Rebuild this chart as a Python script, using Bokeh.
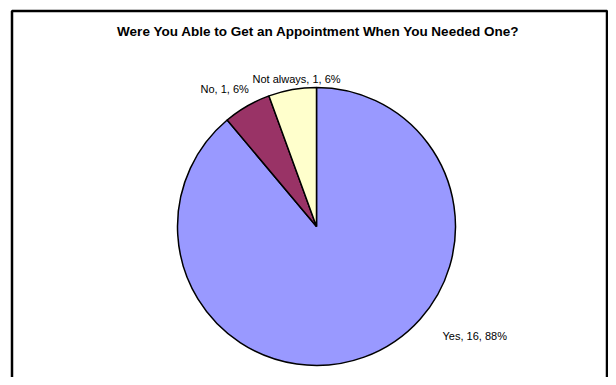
import math
from bokeh.plotting import figure
from bokeh.models import Range1d, ColumnDataSource
from bokeh.core.properties import value
from bokeh.embed import file_html
from bokeh.resources import INLINE

# ---- data ----
categories = ["Yes", "No", "Not always"]
counts = [16, 1, 1]
percent_labels = ["88%", "6%", "6%"]
colors = ["#9999FF", "#993366", "#FFFFCC"]
title_text = "Were You Able to Get an Appointment When You Needed One?"

# ---- layout (pixels) ----
W, H = 608, 377
cx, cy, r = 316, 151, 139
# label anchor offsets (left edge, middle) relative to pie centre
label_offsets = [(126, -109), (-116, 138), (-64, 148)]

total = sum(counts)
starts, ends = [], []
cum = 0.0
for c in counts:
    a0 = math.pi / 2 - 2 * math.pi * cum / total
    cum += c
    a1 = math.pi / 2 - 2 * math.pi * cum / total
    starts.append(a0)
    ends.append(a1)

src = ColumnDataSource(dict(
    x=[cx] * len(counts), y=[cy] * len(counts),
    start=starts, end=ends, color=colors, cat=categories,
))

p = figure(width=W, height=H, x_range=Range1d(0, W), y_range=Range1d(0, H),
           output_backend="svg", toolbar_location=None, min_border=0,
           background_fill_color="white", border_fill_color="white")
p.axis.visible = False
p.grid.visible = False
p.outline_line_color = None

# chart frame
p.quad(left=[11.5], right=[606.5], top=[366.5], bottom=[-10], fill_color=None,
       line_color="black", line_width=2.5)

p.wedge(x="x", y="y", radius=r, start_angle="start", end_angle="end",
        direction="clock", fill_color="color", line_color="black",
        line_width=1.5, source=src)

labels = [f"{c}, {n}, {pc}" for c, n, pc in zip(categories, counts, percent_labels)]
lsrc = ColumnDataSource(dict(
    x=[cx + dx for dx, dy in label_offsets],
    y=[cy + dy for dx, dy in label_offsets],
    t=labels,
))
p.text(x="x", y="y", text="t", source=lsrc, text_align="left",
       text_baseline="middle", text_font=value("Liberation Sans"),
       text_font_size="11px", text_color="black")

p.text(x=[318], y=[346], text=[title_text], text_align="center",
       text_baseline="middle", text_font=value("Liberation Sans"),
       text_font_size="13.5px", text_font_style="bold", text_color="black")

open("out.html", "w").write(file_html(p, INLINE))
